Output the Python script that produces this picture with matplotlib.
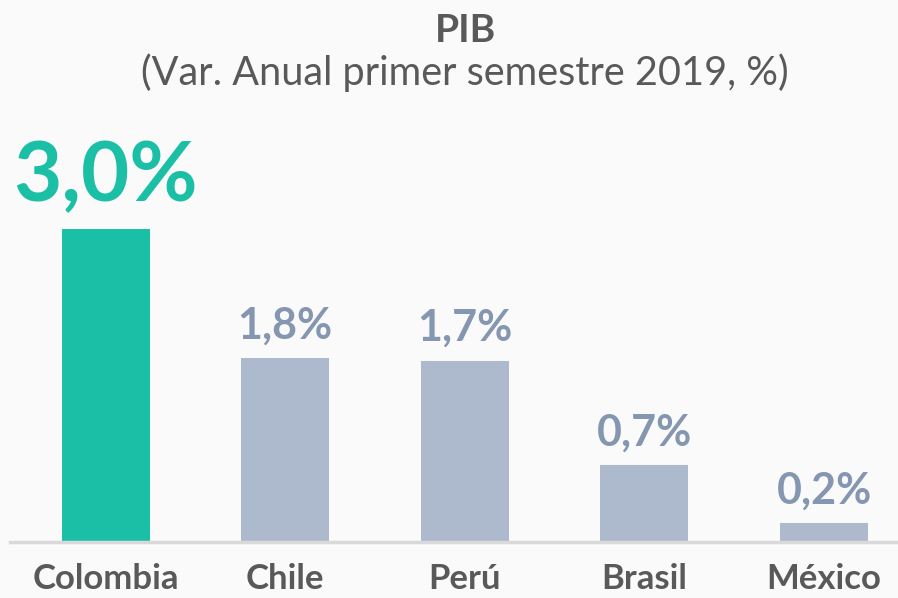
import matplotlib.pyplot as plt

# Data
paises = ["Colombia", "Chile", "Perú", "Brasil", "México"]
pib = [3.0, 1.76, 1.74, 0.74, 0.18]
etiquetas = ["3,0%", "1,8%", "1,7%", "0,7%", "0,2%"]

plt.rcParams['font.family'] = ['Lato', 'DejaVu Sans']

fondo = "#fafafa"
verde = "#1abfa5"
gris_barra = "#adb9cc"
gris_texto = "#8496b0"
gris_titulo = "#595959"

W, H = 898, 598
fig = plt.figure(figsize=(W / 100, H / 100), dpi=100, facecolor=fondo)
ax = fig.add_axes([10 / W, (H - 542) / H, 1 - 10 / W, (542 - 100) / H])
ax.set_facecolor(fondo)

colores = [verde] + [gris_barra] * (len(paises) - 1)
x = range(len(paises))
ax.bar(x, pib, width=0.49, color=colores, zorder=2)

ax.set_xlim(-0.532, 4.412)
ax.set_ylim(0, 442 / 104.3)

for i, (v, lab) in enumerate(zip(pib, etiquetas)):
    if i == 0:
        ax.annotate(lab, (i, v), xytext=(0, 10), textcoords="offset points",
                    ha="center", va="bottom", fontsize=60, fontweight="bold", color=verde)
    else:
        ax.annotate(lab, (i, v), xytext=(0, 9), textcoords="offset points",
                    ha="center", va="bottom", fontsize=31, fontweight="bold", color=gris_texto)

for s in ["top", "right", "left"]:
    ax.spines[s].set_visible(False)
ax.spines["bottom"].set_color("#d9d9d9")
ax.spines["bottom"].set_linewidth(2.5)
ax.set_yticks([])
ax.set_xticks(list(x))
ax.set_xticklabels(paises, fontsize=25, fontweight="bold", color=gris_titulo)
ax.tick_params(axis="x", length=0, pad=15)

fig.text(466 / W, 1 - 30 / H, "PIB", ha="center", va="center",
         fontsize=28, fontweight="bold", color=gris_titulo)
fig.text(465 / W, 1 - 73 / H, "(Var. Anual primer semestre 2019, %)", ha="center", va="center",
         fontsize=28.5, color=gris_titulo)

fig.savefig("out.png", dpi=100, facecolor=fondo)
